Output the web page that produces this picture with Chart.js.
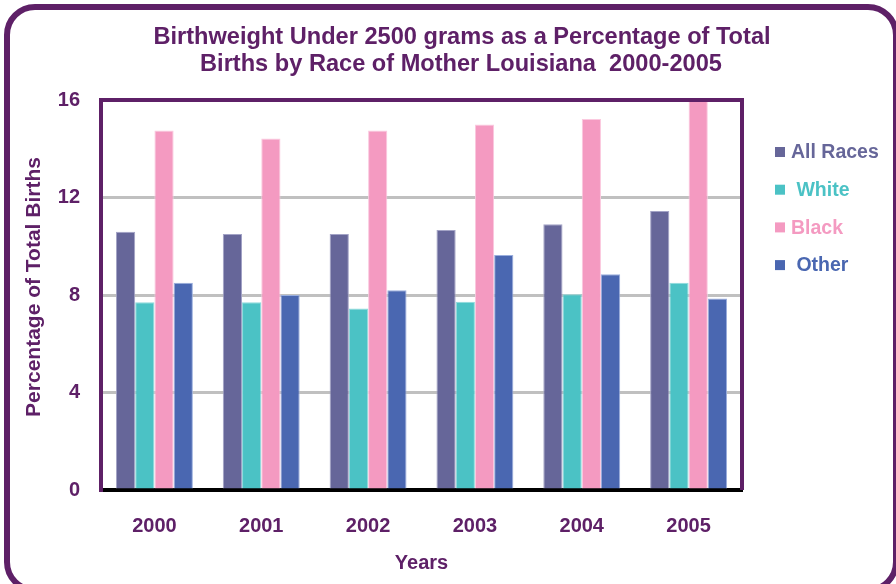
<!DOCTYPE html>
<html>
<head>
<meta charset="utf-8">
<script src="https://cdn.jsdelivr.net/npm/chart.js@4.4.1/dist/chart.umd.min.js"></script>
<style>
  html, body { margin: 0; padding: 0; background: #ffffff; }
  canvas { display: block; }
</style>
</head>
<body>
<canvas id="graph" width="896" height="584"></canvas>
<script>
// years on the x axis
const LABELS = ['2000', '2001', '2002', '2003', '2004', '2005'];

// percentage of total births under 2500 g
const ALL_RACES = [10.6, 10.5, 10.5, 10.67, 10.9, 11.45];
const WHITE = [7.7, 7.7, 7.45, 7.72, 8.03, 8.5];
const BLACK = [14.75, 14.42, 14.75, 15.0, 15.22, 16.0];
const OTHER = [8.5, 8.0, 8.2, 9.64, 8.85, 7.86];

// y axis ticks
const Y_TICKS = [0, 4, 8, 12, 16];

// series names
const SERIES_NAMES = ['All Races', ' White', 'Black', ' Other'];

// title lines
const TITLE_LINES = [
  'Birthweight Under 2500 grams as a Percentage of Total',
  'Births by Race of Mother Louisiana  2000-2005'
];
const Y_TITLE = 'Percentage of Total Births';

// colours
const PURPLE = '#5e2067';
const GRID_GRAY = '#c0c0c0';
const COLOR_ALL = '#666699';
const COLOR_WHITE = '#4bc2c5';
const COLOR_BLACK = '#f49ac1';
const COLOR_OTHER = '#4a67b1';
const SERIES_COLORS = [COLOR_ALL, COLOR_WHITE, COLOR_BLACK, COLOR_OTHER];

const FONT_FAMILY = "'Liberation Sans', Arial, sans-serif";

Chart.defaults.font.family = FONT_FAMILY;

/*
  background, rounded frame, titles, plot border and legend
*/
const decoPlugin = {
  id: 'deco',
  beforeDraw(chart) {
    const ctx = chart.ctx;
    ctx.save();
    // white background
    ctx.fillStyle = '#ffffff';
    ctx.fillRect(0, 0, chart.width, chart.height);
    // rounded frame
    ctx.strokeStyle = PURPLE;
    ctx.lineWidth = 6;
    ctx.beginPath();
    ctx.roundRect(7, 7, 889, 583, 28);
    ctx.stroke();
    // title
    ctx.fillStyle = PURPLE;
    ctx.font = 'bold 23.6px ' + FONT_FAMILY;
    ctx.textAlign = 'center';
    ctx.textBaseline = 'middle';
    ctx.fillText(TITLE_LINES[0], 462, 37);
    ctx.fillText(TITLE_LINES[1], 461, 64);
    // y axis title
    ctx.font = 'bold 21px ' + FONT_FAMILY;
    ctx.translate(34, 287);
    ctx.rotate(-Math.PI / 2);
    ctx.fillText(Y_TITLE, 0, 0);
    ctx.restore();
  },
  afterDraw(chart) {
    const ctx = chart.ctx;
    const area = chart.chartArea;
    ctx.save();
    // top and right plot border
    ctx.strokeStyle = PURPLE;
    ctx.lineWidth = 4;
    ctx.beginPath();
    ctx.moveTo(area.left - 2, area.top);
    ctx.lineTo(area.right, area.top);
    ctx.lineTo(area.right, area.bottom);
    ctx.stroke();
    // legend
    ctx.font = 'bold 19.5px ' + FONT_FAMILY;
    ctx.textAlign = 'left';
    ctx.textBaseline = 'middle';
    for (let i = 0; i < SERIES_NAMES.length; i++) {
      let y = 152 + i * 37.7;
      ctx.fillStyle = SERIES_COLORS[i];
      ctx.fillRect(775, y - 5, 10, 10);
      ctx.fillText(SERIES_NAMES[i], 791, y + 1);
    }
    ctx.restore();
  }
};

/*
  one bar dataset
*/
function makeDataset(name, values, color, edge) {
  return {
    label: name.trim(),
    data: values,
    backgroundColor: color,
    borderColor: edge,
    borderWidth: 1,
    borderSkipped: 'bottom'
  };
}

let tickFont = { size: 20, weight: 'bold' };

let graph = new Chart(document.getElementById('graph'), {
  type: 'bar',
  data: {
    labels: LABELS,
    datasets: [
      makeDataset(SERIES_NAMES[0], ALL_RACES, COLOR_ALL, '#a3a3c6'),
      makeDataset(SERIES_NAMES[1], WHITE, COLOR_WHITE, '#8fdadc'),
      makeDataset(SERIES_NAMES[2], BLACK, COLOR_BLACK, '#fbc9df'),
      makeDataset(SERIES_NAMES[3], OTHER, COLOR_OTHER, '#9aaedd')
    ]
  },
  options: {
    responsive: false,
    animation: false,
    events: [],
    layout: {
      padding: { top: 100, right: 154, bottom: 0, left: 0 }
    },
    plugins: {
      legend: { display: false },
      title: { display: false },
      tooltip: { enabled: false }
    },
    datasets: {
      bar: { categoryPercentage: 0.72, barPercentage: 1.0 }
    },
    scales: {
      x: {
        grid: { display: false, drawTicks: false },
        border: { display: true, color: '#000000', width: 4 },
        ticks: { color: PURPLE, font: tickFont, padding: 24 },
        title: {
          display: true,
          text: 'Years',
          color: PURPLE,
          font: { size: 20, weight: 'bold' },
          padding: { top: 0, bottom: 9 }
        },
        afterFit: function(scale) { scale.height = 94; }
      },
      y: {
        min: 0,
        max: 16,
        afterBuildTicks: function(scale) {
          scale.ticks = Y_TICKS.map(function(v) { return { value: v }; });
        },
        grid: {
          drawTicks: false,
          lineWidth: 3,
          color: function(c) {
            if (c.tick && (c.tick.value === 0 || c.tick.value === 16)) {
              return 'rgba(0,0,0,0)';
            }
            return GRID_GRAY;
          }
        },
        border: { display: true, color: PURPLE, width: 4 },
        ticks: { color: PURPLE, font: tickFont, padding: 21 },
        afterFit: function(scale) { scale.width = 101; }
      }
    }
  },
  plugins: [decoPlugin]
});
</script>
</body>
</html>
